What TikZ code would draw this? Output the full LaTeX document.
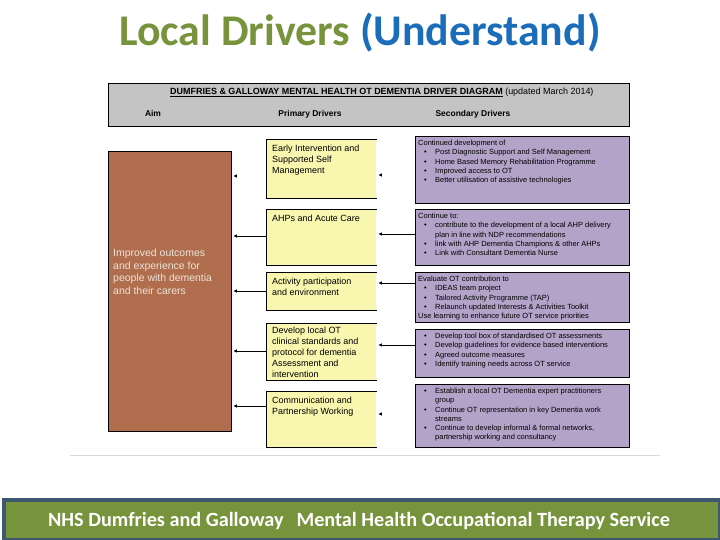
\documentclass[tikz,border=0pt]{standalone}
\usepackage{fontspec}
\setmainfont{Liberation Sans}
\newfontfamily\slidefont{Carlito}
\usetikzlibrary{arrows.meta}

\definecolor{slidegreen}{HTML}{77933C}
\definecolor{titleblue}{HTML}{1B6CB9}
\definecolor{slate}{HTML}{3D5870}
\definecolor{aimbrown}{HTML}{B06E4E}
\definecolor{aimtext}{HTML}{EDE3D9}
\definecolor{primyellow}{HTML}{F9F6B0}
\definecolor{secpurple}{HTML}{B3A3C9}
\definecolor{headgray}{HTML}{C4C4C4}

\newcommand{\bul}{\makebox[17bp][l]{\hspace{6bp}\textbullet}}
\newcommand{\cont}{\hspace*{17bp}}

\begin{document}
\begin{tikzpicture}[
		x=1bp, y=-1bp,
		font=\fontsize{7.5}{9.3}\selectfont,
		box/.style={anchor=north west, inner sep=0pt, line width=0.8bp},
		aimbox/.style={box, draw, fill=aimbrown, minimum width=123bp, minimum height=280bp},
		primbox/.style={box, fill=primyellow, minimum width=110bp},
		secbox/.style={box, draw, fill=secpurple, minimum width=214bp},
		primtxt/.style={anchor=north west, inner sep=0pt, align=left, font=\fontsize{9}{11}\selectfont},
		sectxt/.style={anchor=north west, inner sep=0pt, align=left},
		colhd/.style={anchor=base, inner sep=0pt, font=\bfseries\fontsize{8.5}{10}\selectfont},
		arr/.style={-{Latex[length=3.5bp,width=3.5bp]}, line width=0.8bp, shorten >=1.5bp},
	]
		\useasboundingbox (0,0) rectangle (720,540);

		% Folientitel
		\node[anchor=base, font=\slidefont\bfseries\fontsize{44}{50}\selectfont] (title) at (360,46)
			{\textcolor{slidegreen}{Local Drivers} \textcolor{titleblue}{(Understand)}};

		% Kopfzeile des Diagramms
		\node[box, draw, fill=headgray, minimum width=521bp, minimum height=43bp] (head) at (108,83) {};
		\node[anchor=base west, inner sep=0pt, font=\fontsize{9}{10}\selectfont] (headtitle) at (170,95)
			{\textbf{\underline{DUMFRIES \& GALLOWAY MENTAL HEALTH OT DEMENTIA DRIVER DIAGRAM}} (updated March 2014)};
		\node[colhd] (aimhd) at (153,117) {Aim};
		\node[colhd] (primhd) at (310,117) {Primary Drivers};
		\node[colhd] (sechd) at (473,117) {Secondary Drivers};

		% Ziel
		\node[aimbox] (aim) at (108,151) {};
		\node[anchor=north west, inner sep=0pt, align=left, text=aimtext,
			font=\fontsize{10.5}{12.5}\selectfont] (aimtxt) at (113,249)
			{Improved outcomes\\and experience for\\people with dementia\\and their carers};

		% Primaere Treiber
		\node[primbox, minimum height=59bp] (p1) at (266,139) {};
		\node[primbox, minimum height=56bp] (p2) at (266,209) {};
		\node[primbox, minimum height=38bp] (p3) at (266,272) {};
		\node[primbox, minimum height=57bp] (p4) at (266,323) {};
		\node[primbox, minimum height=56bp] (p5) at (266,391) {};
		\foreach \i in {1,...,5}
			\draw[line width=0.8bp] (p\i.north east) -| (p\i.south west) -- (p\i.south east);

		\node[primtxt] (p1txt) at ([xshift=6bp,yshift=-6bp]p1.north west)
			{Early Intervention and\\Supported Self\\Management};
		\node[primtxt] (p2txt) at ([xshift=6bp,yshift=-6bp]p2.north west)
			{AHPs and Acute Care};
		\node[primtxt] (p3txt) at ([xshift=6bp,yshift=-6bp]p3.north west)
			{Activity participation\\and environment};
		\node[primtxt] (p4txt) at ([xshift=6bp,yshift=-4bp]p4.north west)
			{Develop local OT\\clinical standards and\\protocol for dementia\\Assessment and\\intervention};
		\node[primtxt] (p5txt) at ([xshift=6bp,yshift=-6bp]p5.north west)
			{Communication and\\Partnership Working};

		% Sekundaere Treiber
		\node[secbox, minimum height=67bp] (s1) at (415,136) {};
		\node[secbox, minimum height=56bp] (s2) at (415,209) {};
		\node[secbox, minimum height=50bp] (s3) at (415,272) {};
		\node[secbox, minimum height=48bp] (s4) at (415,329) {};
		\node[secbox, minimum height=63bp] (s5) at (415,384) {};

		\node[sectxt] (s1txt) at ([xshift=3bp,yshift=-4bp]s1.north west)
			{Continued development of\\
			 \bul Post Diagnostic Support and Self Management\\
			 \bul Home Based Memory Rehabilitation Programme\\
			 \bul Improved access to OT\\
			 \bul Better utilisation of assistive technologies};
		\node[sectxt] (s2txt) at ([xshift=3bp,yshift=-4bp]s2.north west)
			{Continue to:\\
			 \bul contribute to the development of a local AHP delivery\\
			 \cont plan in line with NDP recommendations\\
			 \bul link with AHP Dementia Champions \& other AHPs\\
			 \bul Link with Consultant Dementia Nurse};
		\node[sectxt] (s3txt) at ([xshift=3bp,yshift=-4bp]s3.north west)
			{Evaluate OT contribution to\\
			 \bul IDEAS team project\\
			 \bul Tailored Activity Programme (TAP)\\
			 \bul Relaunch updated Interests \& Activities Toolkit\\
			 Use learning to enhance future OT service priorities};
		\node[sectxt] (s4txt) at ([xshift=3bp,yshift=-4bp]s4.north west)
			{\bul Develop tool box of standardised OT assessments\\
			 \bul Develop guidelines for evidence based interventions\\
			 \bul Agreed outcome measures\\
			 \bul Identify training needs across OT service};
		\node[sectxt] (s5txt) at ([xshift=3bp,yshift=-4bp]s5.north west)
			{\bul Establish a local OT Dementia expert practitioners\\
			 \cont group\\
			 \bul Continue OT representation in key Dementia work\\
			 \cont streams\\
			 \bul Continue to develop informal \& formal networks,\\
			 \cont partnership working and consultancy};

		% Pfeile zum Ziel
		\draw[arr] (aim.east |- 0,176) ++(5,0) -- ++(-5,0);
		\draw[arr] (p2.west |- 0,236) -- (aim.east |- 0,236);
		\draw[arr] (p3.west |- 0,291) -- (aim.east |- 0,291);
		\draw[arr] (p4.west |- 0,351) -- (aim.east |- 0,351);
		\draw[arr] (p5.west |- 0,406) -- (aim.east |- 0,406);

		% Pfeile zu den primaeren Treibern
		\draw[arr] (p1.east |- 0,175) ++(5,0) -- ++(-5,0);
		\draw[arr] (s2.west |- 0,234) -- (p2.east |- 0,234);
		\draw[arr] (s3.west |- 0,283) -- (p3.east |- 0,283);
		\draw[arr] (s4.west |- 0,345) -- (p4.east |- 0,345);
		\draw[arr] (p5.east |- 0,414) ++(5,0) -- ++(-5,0);

		% Trennlinie unter dem Diagramm
		\draw[black!15, line width=0.8bp] (70,455) -- (660,455);

		% Fusszeile
		\node[box, draw=slate, line width=3.5bp, fill=slidegreen, minimum width=716bp, minimum height=40bp] (foot) at (2,498) {};
		\node[anchor=base, text=white, font=\slidefont\bfseries\fontsize{20.3}{22}\selectfont] (foottxt) at (359,526)
			{NHS Dumfries and Galloway\hspace{13bp}Mental Health Occupational Therapy Service};
	\end{tikzpicture}
\end{document}
